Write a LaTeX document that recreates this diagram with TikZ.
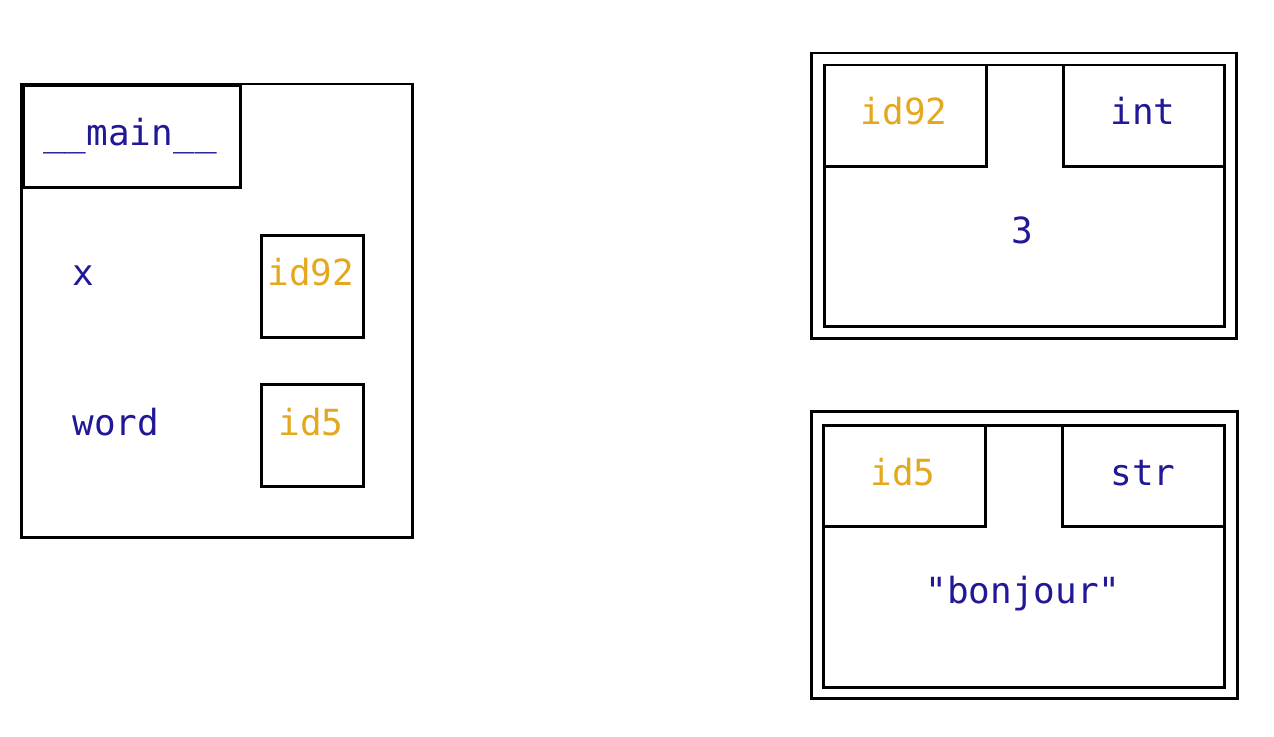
\documentclass[tikz,border=0pt]{standalone}
\usepackage{fontspec}
\setmonofont{DejaVu Sans Mono}
\usepackage{tikz}
\usetikzlibrary{positioning}
\definecolor{namecol}{RGB}{32,24,150}
\definecolor{idcol}{RGB}{228,168,30}

\begin{document}
\begin{tikzpicture}[x=1bp,y=-1bp]
\tikzset{box/.style 2 args={
    draw,
    line width=2.5bp,
    anchor=north west,
    inner sep=0pt,
    minimum width=#1,
    minimum height=#2
  },
  txt/.style={font=\ttfamily\fontsize{36bp}{40bp}\selectfont, anchor=base, inner sep=0pt},
  vartext/.style={txt, text=namecol},
  idtext/.style={txt, text=idcol}
}
\useasboundingbox (0,0) rectangle (1274,737);

% frame __main__
\node[box={391bp}{453bp}] (mainframe) at (20,83) {};
\node[box={217bp}{101bp}] (mainlbl) at (22,85) {};
\node[vartext] (maintxt) at (130,145) {\_\_main\_\_};

\node[vartext] (xname) at (83,285) {x};
\node[box={102bp}{102bp}] (xbox) at (260,234) {};
\node[idtext] (xref) at (311,285) {id92};

\node[vartext] (wordname) at (116,435) {word};
\node[box={102bp}{102bp}] (wordbox) at (260,383) {};
\node[idtext] (wordref) at (311,435) {id5};

% object int
\node[box={425bp}{285bp}] (intouter) at (810,52) {};
\node[box={400bp}{261bp}] (intinner) at (823,64) {};
\node[box={162bp}{101bp}] (intidbox) at (823,64) {};
\node[box={161bp}{101bp}] (inttypebox) at (1062,64) {};
\node[idtext] (intid) at (904,125) {id92};
\node[vartext] (inttype) at (1143,125) {int};
\node[vartext] (intval) at (1022,243) {3};

% object str
\node[box={426bp}{287bp}] (strouter) at (810,410) {};
\node[box={401bp}{262bp}] (strinner) at (822,424) {};
\node[box={162bp}{101bp}] (stridbox) at (822,424) {};
\node[box={162bp}{101bp}] (strtypebox) at (1061,424) {};
\node[idtext] (strid) at (903,485) {id5};
\node[vartext] (strtype) at (1143,485) {str};
\node[vartext] (strval) at (1023,603) {"bonjour"};

\end{tikzpicture}
\end{document}
